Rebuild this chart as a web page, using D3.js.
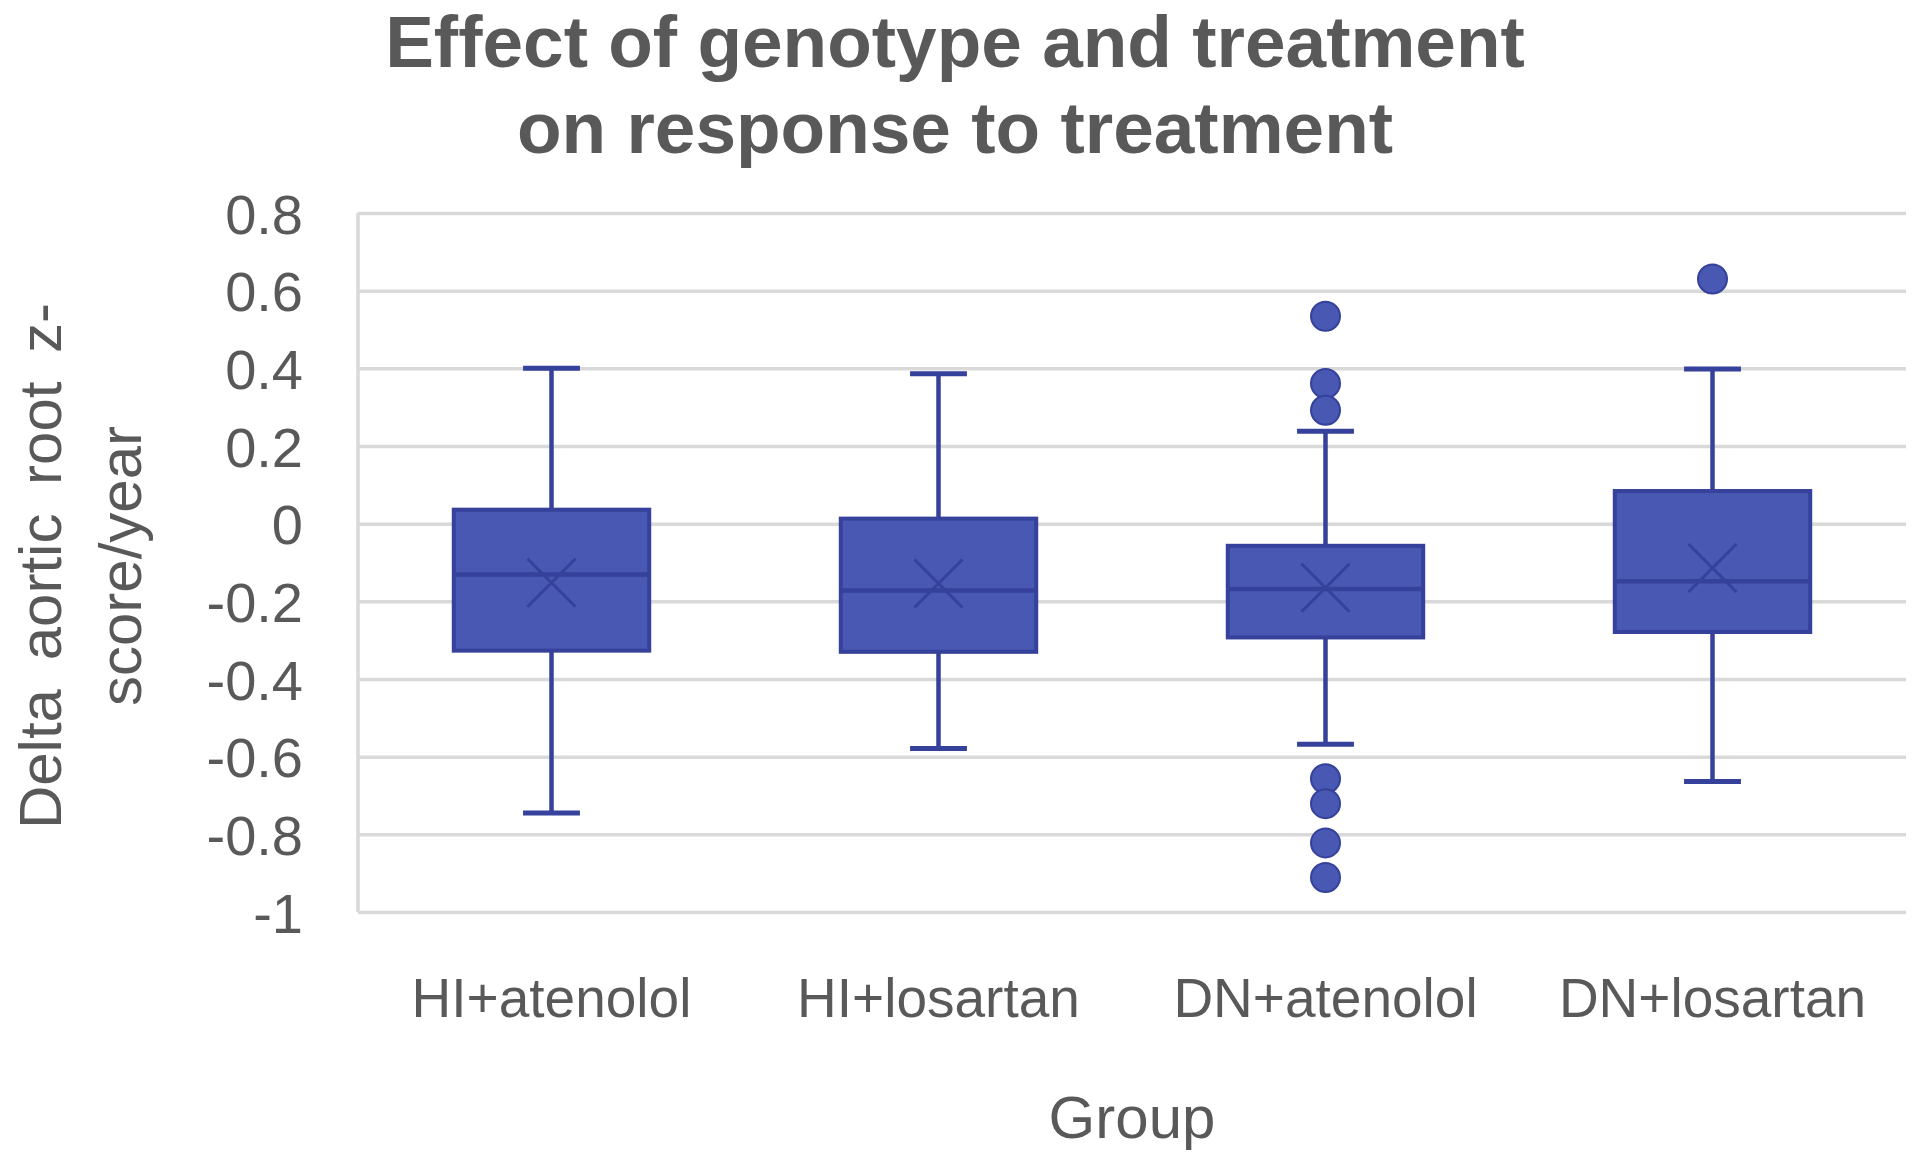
<!DOCTYPE html>
<html>
<head>
<meta charset="utf-8">
<script src="https://cdn.jsdelivr.net/npm/d3@7"></script>
<style>
  html, body { margin: 0; padding: 0; background: #ffffff; }
  svg { display: block; }
  text { font-family: "Liberation Sans", Arial, sans-serif; }
</style>
</head>
<body>
<svg id="chart" width="1920" height="1172"></svg>
<script>
// ---- Data ----
const categories = ["HI+atenolol", "HI+losartan", "DN+atenolol", "DN+losartan"];
const whiskerLow  = [-0.745, -0.579, -0.568, -0.664];
const q1Values    = [-0.327, -0.330, -0.293, -0.279];
const medians     = [-0.131, -0.172, -0.168, -0.148];
const q3Values    = [0.036, 0.013, -0.057, 0.084];
const whiskerHigh = [0.400, 0.386, 0.238, 0.398];
const means       = [-0.152, -0.154, -0.165, -0.114];
const outliers    = [[], [], [0.534, 0.361, 0.292, -0.657, -0.721, -0.822, -0.911], [0.630]];
const yTicks      = [0.8, 0.6, 0.4, 0.2, 0, -0.2, -0.4, -0.6, -0.8, -1];
const yTickLabels = ["0.8", "0.6", "0.4", "0.2", "0", "-0.2", "-0.4", "-0.6", "-0.8", "-1"];

const titleLines = ["Effect of genotype and treatment", "on response to treatment"];
const xTitle = "Group";
const yTitleLines = ["Delta aortic root z-", "score/year"];

(function () {
// ---- Layout ----
const svg = d3.select("#chart");
const plotL = 358, plotR = 1906, plotT = 213, plotB = 912;
const textColor = "#595959";
const gridColor = "#d9d9d9";
const fillColor = "#4858b3";
const edgeColor = "#35419a";

const x = d3.scaleBand().domain(categories).range([plotL, plotR]).padding(0);
const y = d3.scaleLinear().domain([-1, 0.8]).range([plotB, plotT]);

// Gridlines + tick labels
const yAxis = d3.axisLeft(y)
  .tickValues(yTicks)
  .tickFormat((d, i) => yTickLabels[i])
  .tickSize(-(plotR - plotL))
  .tickPadding(55);

const gy = svg.append("g").attr("transform", `translate(${plotL},0)`).call(yAxis);
gy.select(".domain").remove();
gy.selectAll(".tick line").attr("stroke", gridColor).attr("stroke-width", 3.5);
gy.selectAll(".tick text")
  .attr("fill", textColor)
  .attr("font-size", 56)
  .attr("dy", "0.36em");

// Left axis line
svg.append("line")
  .attr("x1", plotL).attr("x2", plotL)
  .attr("y1", y(0.8)).attr("y2", y(-1))
  .attr("stroke", gridColor).attr("stroke-width", 3.5);

// Boxes
const bw = x.bandwidth();
const boxW = bw * 0.505;
const capW = bw * 0.147;
const xSize = 24;

const groups = svg.append("g").selectAll("g.box")
  .data(categories.map((c, i) => ({
    c, lo: whiskerLow[i], q1: q1Values[i], med: medians[i], q3: q3Values[i],
    hi: whiskerHigh[i], mean: means[i], out: outliers[i]
  })))
  .join("g").attr("class", "box");

groups.each(function(d) {
  const g = d3.select(this);
  const cx = x(d.c) + bw / 2;
  g.append("line").attr("x1", cx).attr("x2", cx).attr("y1", y(d.q3)).attr("y2", y(d.hi))
    .attr("stroke", edgeColor).attr("stroke-width", 4.5);
  g.append("line").attr("x1", cx).attr("x2", cx).attr("y1", y(d.q1)).attr("y2", y(d.lo))
    .attr("stroke", edgeColor).attr("stroke-width", 4.5);
  g.append("line").attr("x1", cx - capW / 2).attr("x2", cx + capW / 2).attr("y1", y(d.hi)).attr("y2", y(d.hi))
    .attr("stroke", edgeColor).attr("stroke-width", 5);
  g.append("line").attr("x1", cx - capW / 2).attr("x2", cx + capW / 2).attr("y1", y(d.lo)).attr("y2", y(d.lo))
    .attr("stroke", edgeColor).attr("stroke-width", 5);
  g.append("rect")
    .attr("x", cx - boxW / 2).attr("width", boxW)
    .attr("y", y(d.q3)).attr("height", y(d.q1) - y(d.q3))
    .attr("fill", fillColor).attr("stroke", edgeColor).attr("stroke-width", 4);
  g.append("line").attr("x1", cx - boxW / 2).attr("x2", cx + boxW / 2).attr("y1", y(d.med)).attr("y2", y(d.med))
    .attr("stroke", edgeColor).attr("stroke-width", 4.5);
  const my = y(d.mean);
  g.append("path")
    .attr("d", `M${cx - xSize},${my - xSize}L${cx + xSize},${my + xSize}M${cx + xSize},${my - xSize}L${cx - xSize},${my + xSize}`)
    .attr("stroke", edgeColor).attr("stroke-width", 3).attr("fill", "none");
  g.selectAll("circle").data(d.out).join("circle")
    .attr("cx", cx).attr("cy", v => y(v)).attr("r", 14.5)
    .attr("fill", fillColor).attr("stroke", edgeColor).attr("stroke-width", 2);
});

// X category labels
svg.append("g").selectAll("text").data(categories).join("text")
  .attr("x", d => x(d) + bw / 2).attr("y", 1017)
  .attr("text-anchor", "middle")
  .attr("font-size", 55).attr("fill", textColor)
  .text(d => d);

// Axis titles
svg.append("text")
  .attr("x", (plotL + plotR) / 2).attr("y", 1138)
  .attr("text-anchor", "middle").attr("font-size", 60).attr("fill", textColor)
  .text(xTitle);

const ycx = 566;
svg.append("text")
  .attr("transform", `translate(61,${ycx}) rotate(-90)`)
  .attr("text-anchor", "middle").attr("font-size", 60).attr("fill", textColor)
  .attr("word-spacing", 12)
  .text(yTitleLines[0]);
svg.append("text")
  .attr("transform", `translate(141,${ycx}) rotate(-90)`)
  .attr("text-anchor", "middle").attr("font-size", 60).attr("fill", textColor)
  .text(yTitleLines[1]);

// Title
svg.append("g").selectAll("text").data(titleLines).join("text")
  .attr("x", 955).attr("y", (d, i) => 67 + i * 86)
  .attr("text-anchor", "middle")
  .attr("font-size", 73).attr("font-weight", "bold").attr("fill", textColor)
  .text(d => d);
})();
</script>
</body>
</html>
